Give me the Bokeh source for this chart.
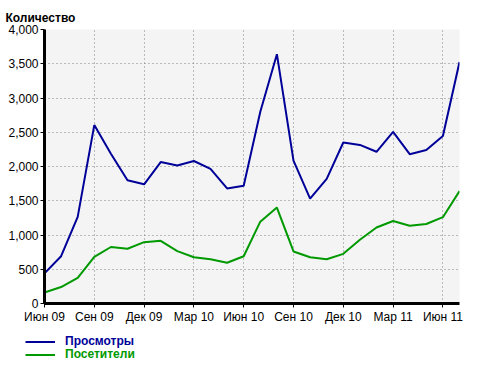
from bokeh.plotting import figure
from bokeh.layouts import column, row
from bokeh.models import Range1d, FixedTicker, NumeralTickFormatter, Legend, LegendItem, Title
from bokeh.embed import file_html
from bokeh.resources import INLINE

months = ["Июн 09", "Июл 09", "Авг 09", "Сен 09", "Окт 09", "Ноя 09", "Дек 09",
          "Янв 10", "Фев 10", "Мар 10", "Апр 10", "Май 10", "Июн 10", "Июл 10",
          "Авг 10", "Сен 10", "Окт 10", "Ноя 10", "Дек 10", "Янв 11", "Фев 11",
          "Мар 11", "Апр 11", "Май 11", "Июн 11", "Июл 11"]
views = [440, 690, 1265, 2605, 2185, 1800, 1740, 2065, 2015, 2080, 1965, 1680, 1720,
         2800, 3640, 2085, 1530, 1820, 2350, 2315, 2215, 2505, 2180, 2240, 2445, 3525]
visitors = [160, 240, 375, 680, 825, 800, 895, 915, 765, 675, 645, 595, 690,
            1195, 1400, 760, 675, 645, 725, 930, 1110, 1205, 1135, 1160, 1260, 1640]
tick_idx = [0, 3, 6, 9, 12, 15, 18, 21, 24]
y_ticks = [0, 500, 1000, 1500, 2000, 2500, 3000, 3500, 4000]
series_names = ["Просмотры", "Посетители"]

FONT = "Liberation Sans"
BLUE = "#000099"
GREEN = "#009900"

xs = list(range(len(months)))

p = figure(width=486, height=326, output_backend="svg", toolbar_location=None,
           x_range=Range1d(0, len(months) - 1), y_range=Range1d(0, 4000),
           min_border_left=44, min_border_right=27, min_border_top=29,
           min_border_bottom=20, title=None)
p.background_fill_color = "#f4f4f4"
p.border_fill_color = "white"
p.outline_line_color = None

t = Title(text="Количество", align="left", offset=-39,
          text_font=FONT, text_font_size="12px", text_font_style="bold",
          text_color="black")
p.add_layout(t, "above")

p.line(xs, views, line_color=BLUE, line_width=2)
p.line(xs, visitors, line_color=GREEN, line_width=2)

p.xaxis.ticker = FixedTicker(ticks=tick_idx)
p.xaxis.major_label_overrides = {i: months[i] for i in tick_idx}
p.yaxis.ticker = FixedTicker(ticks=y_ticks)
p.yaxis.formatter = NumeralTickFormatter(format="0,0")

for ax in (p.xaxis[0], p.yaxis[0]):
    ax.axis_line_width = 3
    ax.axis_line_color = "black"
    ax.major_tick_in = 0
    ax.major_tick_out = 4
    ax.major_tick_line_color = "black"
    ax.minor_tick_line_color = None
    ax.major_label_text_font = FONT
    ax.major_label_text_font_size = "12px"
    ax.major_label_text_color = "black"
    ax.major_label_standoff = 2

for g in (p.xgrid[0], p.ygrid[0]):
    g.grid_line_color = "#808080"
    g.grid_line_dash = "1 3"
    g.grid_line_width = 1

# legend strip below the chart
pl = figure(width=486, height=40, output_backend="svg", toolbar_location=None,
            min_border=0, min_border_left=0, min_border_right=0,
            x_axis_location=None, y_axis_location=None,
            x_range=Range1d(0, 1), y_range=Range1d(0, 1))
pl.outline_line_color = None
pl.grid.visible = False
pl.background_fill_color = "white"
nan = float("nan")
l1 = pl.line([0, 1], [nan, nan], line_color=BLUE, line_width=2)
l2 = pl.line([0, 1], [nan, nan], line_color=GREEN, line_width=2)

common = dict(padding=0, margin=0, spacing=0, glyph_width=30, glyph_height=13,
              label_height=13, label_standoff=10, label_text_font=FONT,
              label_text_font_size="12px", label_text_font_style="bold",
              border_line_color=None, background_fill_alpha=0)
leg1 = Legend(items=[LegendItem(label=series_names[0], renderers=[l1])],
              location=(25, 18), label_text_color=BLUE, **common)
leg2 = Legend(items=[LegendItem(label=series_names[1], renderers=[l2])],
              location=(25, 5), label_text_color=GREEN, **common)
pl.add_layout(leg1)
pl.add_layout(leg2)

layout = column(p, row(pl), spacing=0)
html = file_html(layout, INLINE)
html = html.replace("<body>", "<body style=\"margin:0\">")
open("out.html", "w").write(html)
